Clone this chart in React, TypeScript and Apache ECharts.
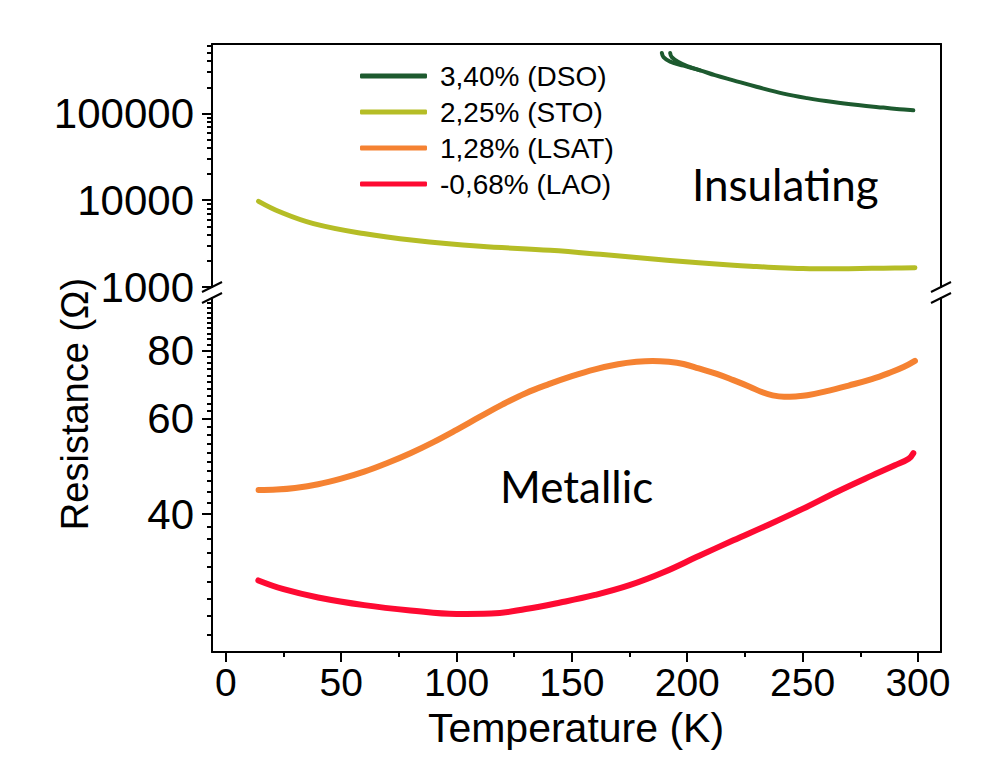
import React, { useEffect, useRef } from "react";
import * as echarts from "echarts";

// ---------- data (Temperature K, Resistance Ω) ----------
const dsoMain: [number, number][] = [
  [189, 497000], [189.7, 446000], [192.6, 395000], [198.4, 355000], [205.6, 314000],
  [212, 276000], [220, 240500], [230, 203000], [241.7, 169000], [252, 150000],
  [263.3, 135300], [274, 125000], [285, 116700], [292, 112000], [298, 108600],
];
const dsoHook: [number, number][] = [
  [192.6, 497000], [193.3, 446000], [196.2, 391000], [200, 350000], [205.6, 314000],
];
const sto: [number, number][] = [
  [14.2, 9710], [23.6, 7310], [38, 5375], [59.7, 4125], [81.4, 3450], [110.3, 2943],
  [140.6, 2648], [162.3, 2380], [191.2, 2030], [205, 1900], [220, 1778], [230, 1720],
  [240, 1670], [250, 1635], [260, 1620], [270, 1625], [280, 1640], [290, 1655], [298.7, 1670],
];
const lsat: [number, number][] = [
  [14.2, 44.3], [22, 44.4], [30, 44.7], [40, 45.4], [50, 46.5], [60, 47.9], [70, 49.7],
  [80, 51.8], [90, 54.3], [100, 57.2], [110, 60.4], [120, 63.7], [130, 66.8], [140, 69.4],
  [150, 71.8], [160, 73.9], [170, 75.5], [178, 76.3], [185, 76.6], [192, 76.3], [198.4, 75.6],
  [205, 74.2], [212.8, 72.5], [220, 70.6], [227.3, 68.6], [232, 67.2], [237, 66.2],
  [242, 65.8], [247, 65.9], [252, 66.2], [260, 67.3], [270, 69.0], [280, 70.9], [288, 72.9],
  [294, 74.7], [298.7, 76.6],
];
const lao: [number, number][] = [
  [14.1, 30.2], [25, 29.1], [40, 28.1], [60, 27.2], [80, 26.6], [100, 26.2], [115, 26.25],
  [130, 26.75], [145, 27.5], [160, 28.4], [175, 29.6], [190, 31.3], [205, 33.5], [220, 35.8],
  [235, 38.2], [250, 40.9], [265, 44.0], [280, 47.1], [290, 49.2], [296, 50.6], [298, 51.8],
];

const seriesNames = ["3,40% (DSO)", "2,25% (STO)", "1,28% (LSAT)", "-0,68% (LAO)"];
const seriesColors = ["#1d5a2f", "#b5bd26", "#f58232", "#fe0a32"];

// ---------- ticks ----------
const xMajorTicks = [0, 50, 100, 150, 200, 250, 300];
const xMinorTicks = [25, 75, 125, 175, 225, 275];
const upperMajorTicks = [1000, 10000, 100000];
const upperMinorTicks = [
  2000, 3000, 4000, 5000, 6000, 7000, 8000, 9000,
  20000, 30000, 40000, 50000, 60000, 70000, 80000, 90000,
  200000, 300000, 400000, 500000, 600000,
];
const lowerMajorTicks = [40, 60, 80];
const lowerMinorTicks = [
  24, 26, 28, 30, 32, 34, 36, 38, 42, 44, 46, 48, 50, 52, 54, 56, 58,
  62, 64, 66, 68, 70, 72, 74, 76, 78, 82, 84, 86, 88, 90, 92, 94, 96, 98,
];

const X_MIN = -6;
const X_MAX = 310;
const UP_MIN = 1000;
const UP_MAX = 631000;
const LO_MIN = 22.3;
const LO_MAX = 100;

const FONT = "'Liberation Sans', Arial, sans-serif";
const LABEL_FONT = "Lato, 'Open Sans', sans-serif";

const G_LEFT = 212;
const G_WIDTH = 729;
const G1_TOP = 44;
const G1_H = 243;
const G2_TOP = 298;
const G2_H = 354;

export default function App() {
  const ref = useRef<HTMLDivElement>(null);
  useEffect(() => {
    if (!ref.current) return;
    const chart = echarts.init(ref.current, null, { renderer: "svg" });

    const axisLine = { show: true, onZero: false, lineStyle: { color: "#000", width: 2 } };
    const tickStyle = { color: "#000", width: 2 };
    const fmt = (v: number) => String(Math.round(v));

    const lineSeries = (
      name: string,
      color: string,
      data: [number, number][],
      xi: number,
      yi: number,
      width: number
    ) => ({
      name,
      type: "line",
      xAxisIndex: xi,
      yAxisIndex: yi,
      data,
      symbol: "none",
      showSymbol: false,
      smooth: 0.4,
      lineStyle: { color, width, cap: "round", join: "round" },
      itemStyle: { color },
    });

    const breakMarks = [
      [G_LEFT, G1_TOP + G1_H],
      [G_LEFT, G2_TOP],
      [G_LEFT + G_WIDTH, G1_TOP + G1_H],
      [G_LEFT + G_WIDTH, G2_TOP],
    ].map(([cx, cy]) => ({
      type: "line",
      shape: { x1: cx - 10, y1: cy + 5, x2: cx + 10, y2: cy - 5 },
      style: { stroke: "#000", lineWidth: 2 },
    }));

    chart.setOption({
      animation: false,
      backgroundColor: "#fff",
      grid: [
        { left: G_LEFT, top: G1_TOP, width: G_WIDTH, height: G1_H },
        { left: G_LEFT, top: G2_TOP, width: G_WIDTH, height: G2_H },
      ],
      legend: {
        data: seriesNames,
        orient: "vertical",
        left: 360,
        top: 62,
        padding: 0,
        icon: "roundRect",
        itemWidth: 67,
        itemHeight: 5,
        itemGap: 8,
        textStyle: {
          fontFamily: FONT,
          fontSize: 28,
          lineHeight: 28,
          color: "#000",
          padding: [0, 0, 0, 8],
        },
      },
      xAxis: [
        {
          gridIndex: 0, type: "value", min: X_MIN, max: X_MAX, position: "top",
          axisLine, axisTick: { show: false }, axisLabel: { show: false }, splitLine: { show: false },
        },
        {
          gridIndex: 1, type: "value", min: X_MIN, max: X_MAX, position: "bottom",
          axisLine,
          axisTick: { show: true, length: 10, lineStyle: tickStyle, customValues: xMajorTicks },
          axisLabel: {
            show: true, customValues: xMajorTicks, fontFamily: FONT, fontSize: 39,
            color: "#000", margin: 11,
          },
          splitLine: { show: false },
        },
        {
          gridIndex: 1, type: "value", min: X_MIN, max: X_MAX, position: "bottom",
          axisLine: { show: false, onZero: false },
          axisTick: { show: true, length: 5, lineStyle: tickStyle, customValues: xMinorTicks },
          axisLabel: { show: false }, splitLine: { show: false },
        },
      ],
      yAxis: [
        {
          gridIndex: 0, type: "log", min: UP_MIN, max: UP_MAX, position: "left",
          axisLine,
          axisTick: { show: true, length: 10, lineStyle: tickStyle, customValues: upperMajorTicks },
          axisLabel: {
            show: true, customValues: upperMajorTicks, formatter: fmt, fontFamily: FONT,
            fontSize: 42, color: "#000", margin: 18,
          },
          splitLine: { show: false },
        },
        {
          gridIndex: 0, type: "log", min: UP_MIN, max: UP_MAX, position: "left",
          axisLine: { show: false, onZero: false },
          axisTick: { show: true, length: 5, lineStyle: tickStyle, customValues: upperMinorTicks },
          axisLabel: { show: false }, splitLine: { show: false },
        },
        {
          gridIndex: 0, type: "log", min: UP_MIN, max: UP_MAX, position: "right",
          axisLine, axisTick: { show: false }, axisLabel: { show: false }, splitLine: { show: false },
        },
        {
          gridIndex: 1, type: "log", min: LO_MIN, max: LO_MAX, position: "left",
          axisLine,
          axisTick: { show: true, length: 10, lineStyle: tickStyle, customValues: lowerMajorTicks },
          axisLabel: {
            show: true, customValues: lowerMajorTicks, formatter: fmt, fontFamily: FONT,
            fontSize: 42, color: "#000", margin: 18,
          },
          splitLine: { show: false },
        },
        {
          gridIndex: 1, type: "log", min: LO_MIN, max: LO_MAX, position: "left",
          axisLine: { show: false, onZero: false },
          axisTick: { show: true, length: 5, lineStyle: tickStyle, customValues: lowerMinorTicks },
          axisLabel: { show: false }, splitLine: { show: false },
        },
        {
          gridIndex: 1, type: "log", min: LO_MIN, max: LO_MAX, position: "right",
          axisLine, axisTick: { show: false }, axisLabel: { show: false }, splitLine: { show: false },
        },
      ],
      series: [
        lineSeries(seriesNames[0], seriesColors[0], dsoMain, 0, 0, 4),
        lineSeries(seriesNames[0], seriesColors[0], dsoHook, 0, 0, 4),
        lineSeries(seriesNames[1], seriesColors[1], sto, 0, 0, 5),
        lineSeries(seriesNames[2], seriesColors[2], lsat, 1, 3, 6),
        lineSeries(seriesNames[3], seriesColors[3], lao, 1, 3, 6),
      ],
      graphic: [
        ...breakMarks,
        {
          type: "text", x: 692, y: 184,
          style: { text: "Insulating", fontFamily: LABEL_FONT, fontSize: 44, fill: "#000", align: "left", verticalAlign: "middle" },
        },
        {
          type: "text", x: 500, y: 486,
          style: { text: "Metallic", fontFamily: LABEL_FONT, fontSize: 44, fill: "#000", align: "left", verticalAlign: "middle" },
        },
        {
          type: "text", x: 75, y: 404, rotation: Math.PI / 2,
          style: { text: "Resistance (Ω)", fontFamily: FONT, fontSize: 38, fill: "#000", align: "center", verticalAlign: "middle" },
        },
        {
          type: "text", x: 576, y: 728,
          style: { text: "Temperature (K)", fontFamily: FONT, fontSize: 41, fill: "#000", align: "center", verticalAlign: "middle" },
        },
      ],
    });
    return () => chart.dispose();
  }, []);
  return (
    <div
      ref={ref}
      style={{ position: "absolute", left: 0, top: 0, width: 985, height: 777 }}
    />
  );
}
